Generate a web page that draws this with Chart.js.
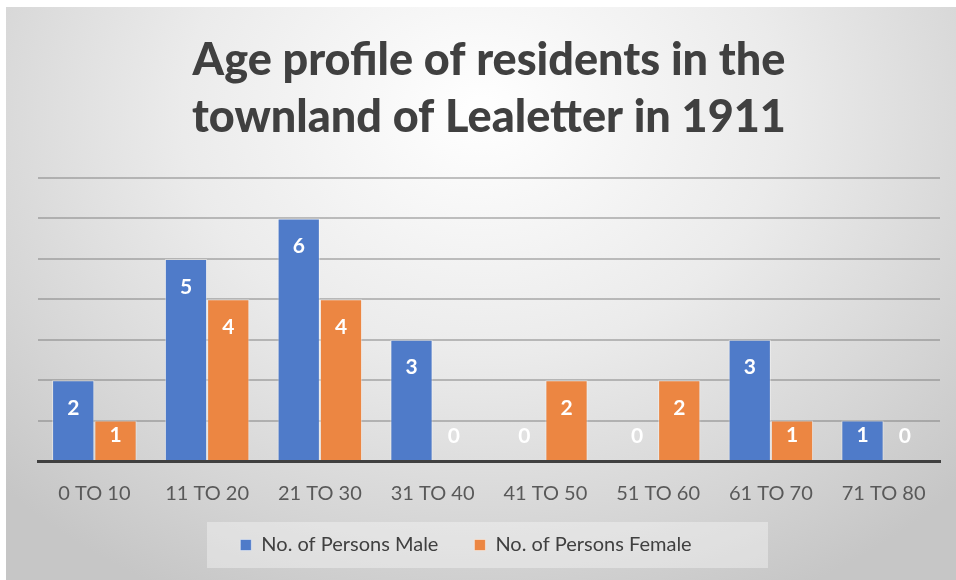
<!DOCTYPE html>
<html>
<head>
<meta charset="utf-8">
<script src="https://cdn.jsdelivr.net/npm/chart.js@4/dist/chart.umd.min.js"></script>
<style>
  html, body { margin: 0; padding: 0; background: #ffffff; }
  #wrap {
    position: absolute; left: 6px; top: 7px; width: 950px; height: 573px;
    background: radial-gradient(ellipse 70% 95% at 50% 18%, #ffffff 0%, #ebebeb 45%, #d4d4d4 80%, #c6c6c6 100%);
  }
</style>
</head>
<body>
<div id="wrap"><canvas id="chart" width="950" height="573"></canvas></div>
<script>
const titleLines = ['Age profile of residents in the', 'townland of Lealetter in 1911'];
const ageGroups = ['0 TO 10', '11 TO 20', '21 TO 30', '31 TO 40', '41 TO 50', '51 TO 60', '61 TO 70', '71 TO 80'];
const maleCounts = [2, 5, 6, 3, 0, 0, 3, 1];
const femaleCounts = [1, 4, 4, 0, 2, 2, 1, 0];

const blue = '#4f7bc9';
const orange = '#ec8642';

// white value labels inside the top of each bar (zeros sit just above the axis)
const valueLabels = {
    id: 'valueLabels',
    afterDatasetsDraw(chart) {
        const ctx = chart.ctx;
        ctx.save();
        ctx.font = 'bold 21px Lato';
        ctx.fillStyle = '#ffffff';
        ctx.textAlign = 'center';
        ctx.textBaseline = 'middle';
        chart.data.datasets.forEach((ds, i) => {
            chart.getDatasetMeta(i).data.forEach((bar, j) => {
                const y = Math.min(bar.y + 28, bar.base - 25);
                ctx.fillText(String(ds.data[j]), bar.x, y);
            });
        });
        ctx.restore();
    },
};

// x labels spill into the legend's empty top padding; legend sits a bit left like Excel's
const xSqueeze = 20;
const layoutTweaks = {
    id: 'layoutTweaks',
    afterLayout(chart) {
        chart.scales.x.bottom += xSqueeze;
        chart.legend.left -= 23;
        chart.legend.right -= 23;
    },
};

// faint panel behind the legend
const legendPanel = {
    id: 'legendPanel',
    beforeDraw(chart) {
        const lg = chart.legend;
        if (!lg || !lg.legendHitBoxes || !lg.legendHitBoxes.length) return;
        const hb = lg.legendHitBoxes[0];
        const cy = hb.top + hb.height / 2;
        const ctx = chart.ctx;
        ctx.save();
        ctx.fillStyle = 'rgba(255,255,255,0.35)';
        ctx.fillRect(201, cy - 23, 561, 46);
        ctx.restore();
    },
};

new Chart(document.getElementById('chart'), {
    type: 'bar',
    data: {
        labels: ageGroups,
        datasets: [
            {
                label: 'No. of Persons Male',
                data: maleCounts,
                backgroundColor: blue,
                borderColor: 'rgba(255,255,255,0.45)',
                borderWidth: (c) => (c.raw ? 1 : 0),
            },
            {
                label: 'No. of Persons Female',
                data: femaleCounts,
                backgroundColor: orange,
                borderColor: 'rgba(255,255,255,0.45)',
                borderWidth: (c) => (c.raw ? 1 : 0),
            },
        ],
    },
    options: {
        responsive: false,
        animation: false,
        layout: { padding: { left: 32, right: 16, top: 0, bottom: 15 } },
        datasets: {
            bar: { categoryPercentage: 0.75, barPercentage: 1 },
        },
        scales: {
            x: {
                grid: { display: false },
                border: { display: true, color: '#404040', width: 3 },
                ticks: { color: '#595959', font: { family: 'Lato', size: 20 }, padding: 13, maxRotation: 0 },
                afterFit(scale) { scale.height -= xSqueeze; },
            },
            y: {
                min: 0,
                max: 7,
                ticks: { display: false, stepSize: 1 },
                border: { display: false },
                grid: { color: 'rgba(120,120,120,0.45)', lineWidth: 2, drawTicks: false },
            },
        },
        plugins: {
            title: {
                display: true,
                text: titleLines,
                color: '#404040',
                font: { family: 'Lato', size: 45, weight: '900', lineHeight: 1.267 },
                padding: { top: 25, bottom: 32 },
            },
            legend: {
                position: 'bottom',
                labels: {
                    color: '#404040',
                    font: { family: 'Lato', size: 20 },
                    boxWidth: 11,
                    boxHeight: 11,
                    padding: 36,
                },
            },
            tooltip: { enabled: false },
        },
    },
    plugins: [valueLabels, layoutTweaks, legendPanel],
});
</script>
</body>
</html>
